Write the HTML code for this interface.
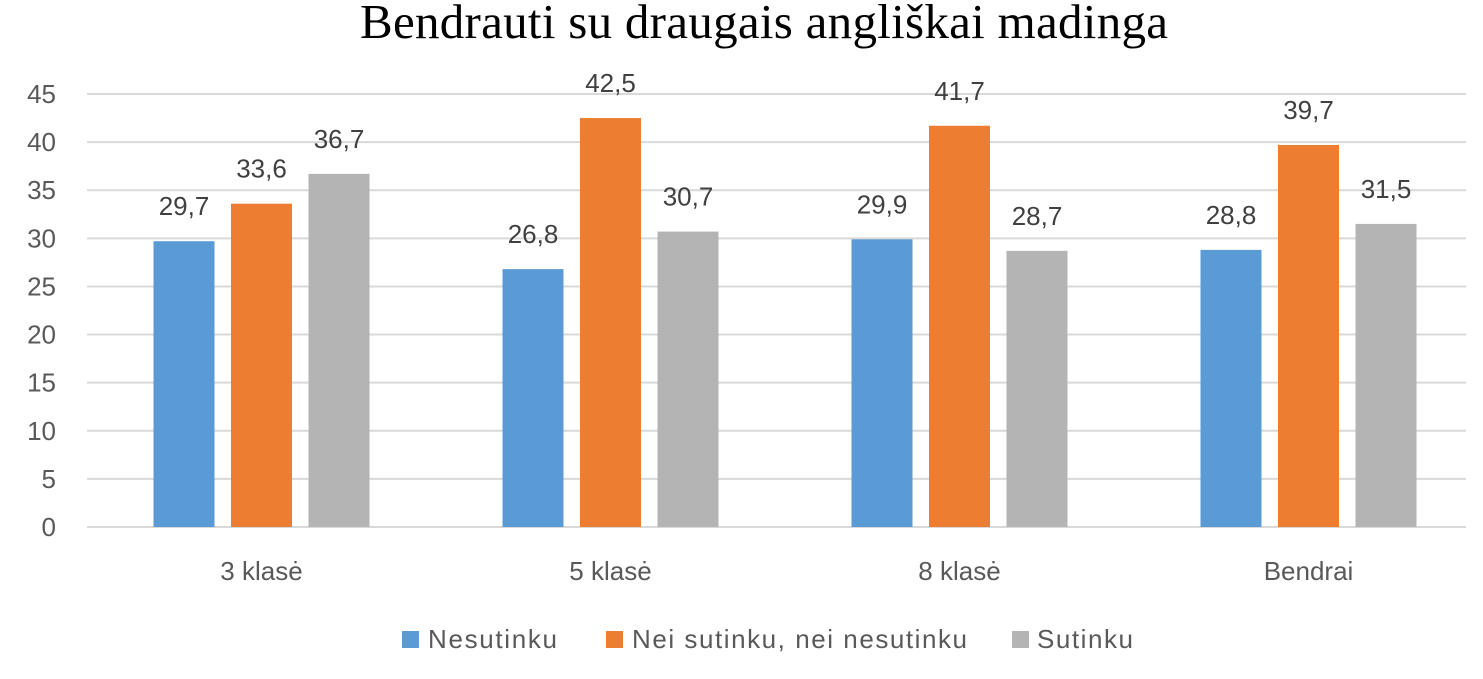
<!DOCTYPE html>
<html><head><meta charset="utf-8"><style>
body{margin:0;background:#fff;}
svg{display:block;font-family:"Liberation Sans",sans-serif;}
</style></head><body>
<svg id="chart" width="1483" height="679">
<text x="764" y="38" text-anchor="middle" font-family="Liberation Serif,serif" font-size="49" textLength="808" fill="#000">Bendrauti su draugais angliškai madinga</text>
<g id="grid"></g><g id="bars"></g><g id="labels"></g>
<g>
<rect x="402" y="631" width="17" height="17" fill="#5b9bd5"/>
<text x="428" y="648" font-size="26" textLength="129" fill="#595959">Nesutinku</text>
<rect x="606" y="631" width="17" height="17" fill="#ed7d31"/>
<text x="632" y="648" font-size="26" textLength="335" fill="#595959">Nei sutinku, nei nesutinku</text>
<rect x="1012" y="631" width="17" height="17" fill="#b4b4b4"/>
<text x="1037" y="648" font-size="26" textLength="96" fill="#595959">Sutinku</text>
</g>
</svg>
<script>
const categories=["3 klasė","5 klasė","8 klasė","Bendrai"];
const nesutinku=[29.7,26.8,29.9,28.8];
const nei=[33.6,42.5,41.7,39.7];
const sutinku=[36.7,30.7,28.7,31.5];
const yTicks=[0,5,10,15,20,25,30,35,40,45];
const NS="http://www.w3.org/2000/svg";
const L=87,R=1466,Y0=527,Y45=94;
const y=v=>Y0-(v/45)*(Y0-Y45);
const gw=349;
const x=i=>261.5+gw*i;
function mk(t,a,p){const e=document.createElementNS(NS,t);for(const k in a)e.setAttribute(k,a[k]);p.appendChild(e);return e;}
const grid=document.getElementById('grid'),bars=document.getElementById('bars'),labels=document.getElementById('labels');
yTicks.forEach(t=>{
 const l=mk('line',{x1:L,x2:R,y1:y(t),y2:y(t),stroke:'#d9d9d9','stroke-width':2},grid);
 
 
 const tx=mk('text',{x:56,y:y(t)+9,'text-anchor':'end','font-size':26,fill:'#595959'},grid);
 tx.textContent=t;
 
 
});
const series=[[nesutinku,'#5b9bd5','nesutinku'],[nei,'#ed7d31','nei'],[sutinku,'#b4b4b4','sutinku']];
const bw=61,step=77.5;
categories.forEach((c,i)=>{
 series.forEach((s,j)=>{
  const cx=x(i)+(j-1)*step,v=s[0][i];
  const r=mk('rect',{x:cx-bw/2,y:y(v),width:bw,height:Y0-y(v),fill:s[1]},bars);
  
  
  const t=mk('text',{x:cx,y:y(v)-26,'text-anchor':'middle','font-size':26,fill:'#404040'},labels);
  t.textContent=String(v).replace('.',',');
  
  
 });
 const ct=mk('text',{x:x(i),y:580,'text-anchor':'middle','font-size':26,fill:'#595959'},labels);
 ct.textContent=c;
 
 
});
</script>
</body></html>
